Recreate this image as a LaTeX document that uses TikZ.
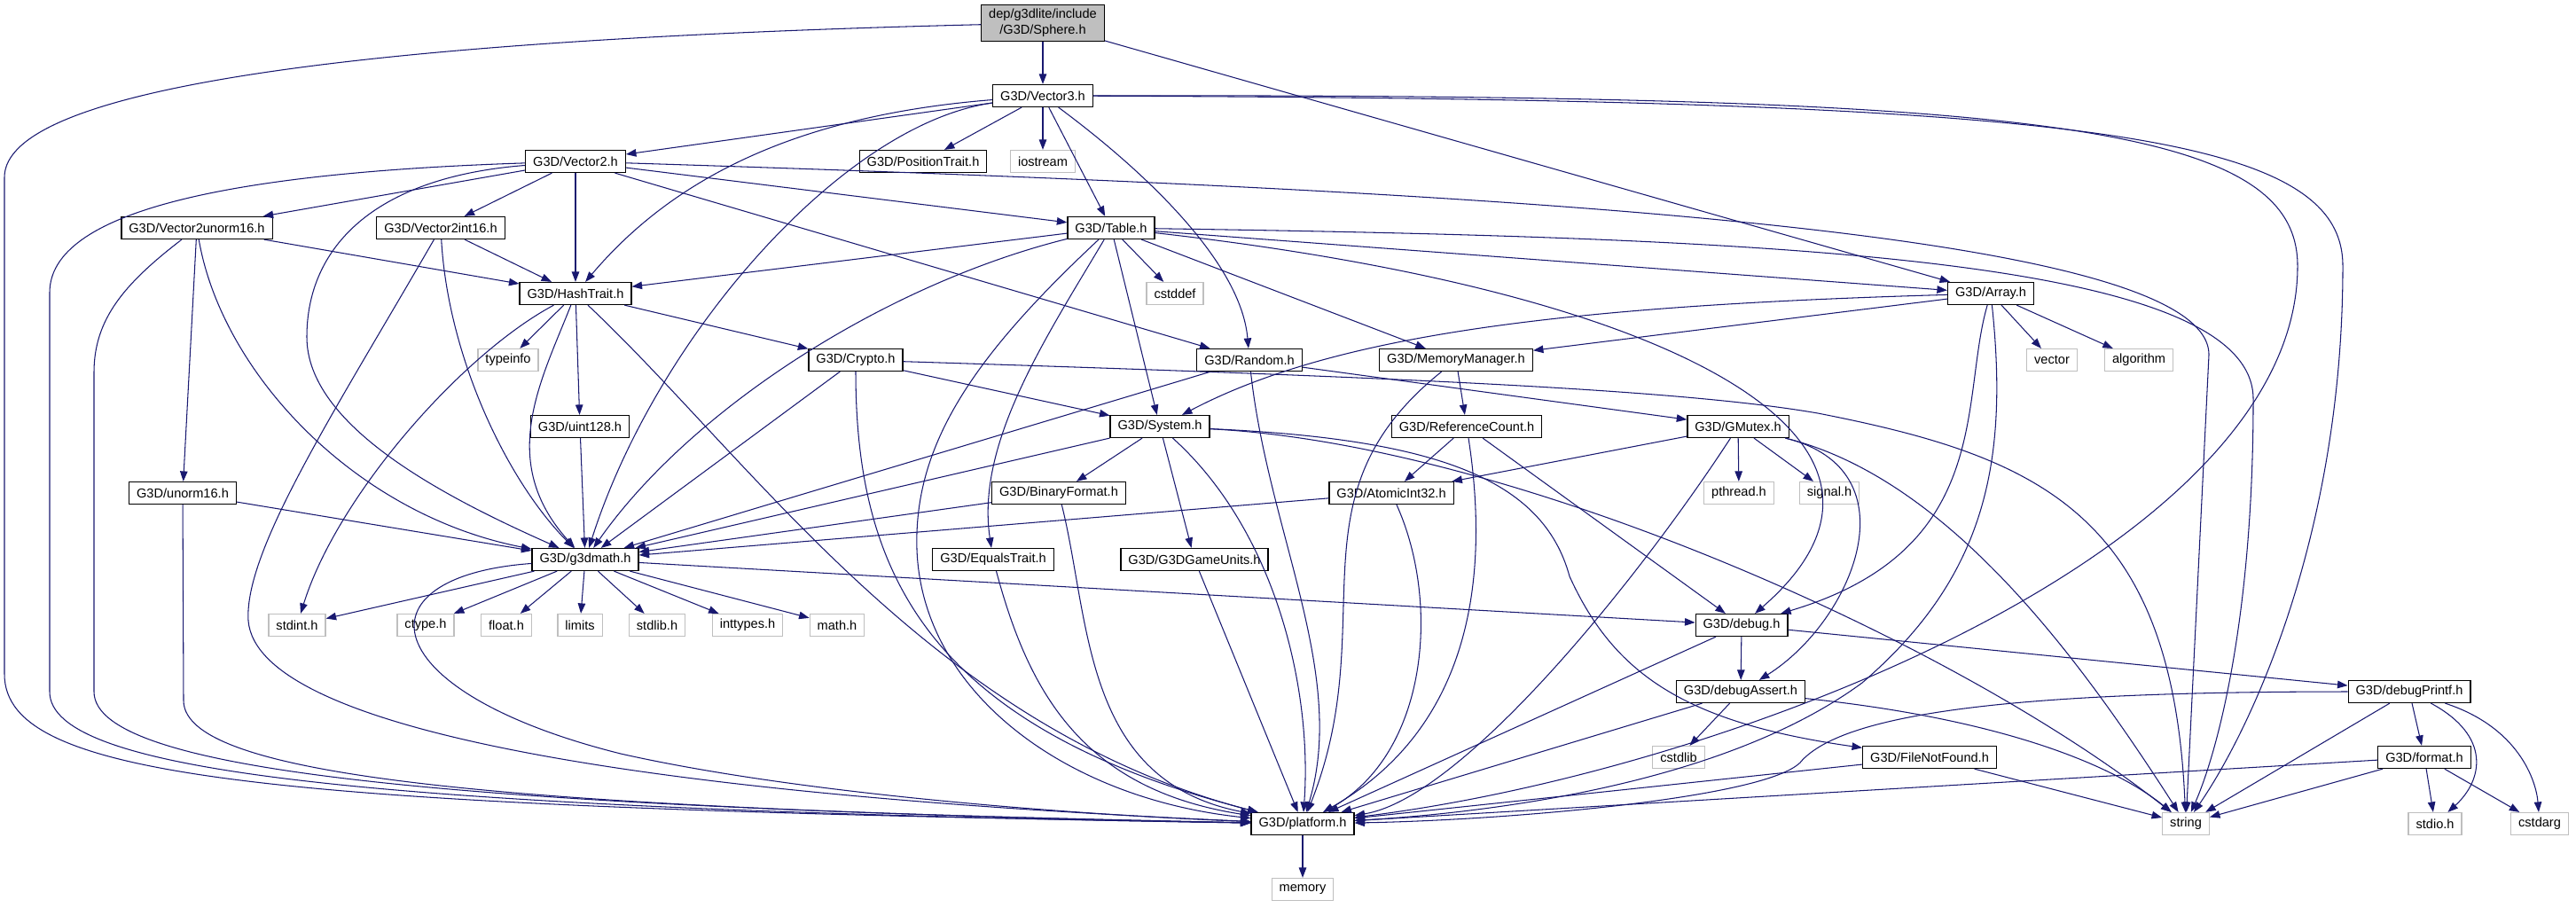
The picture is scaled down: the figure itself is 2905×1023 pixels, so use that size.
\documentclass[tikz,border=0pt]{standalone}
\usepackage{fontspec}
\setmainfont{Liberation Sans}
\usetikzlibrary{arrows.meta}
\definecolor{edgeblue}{RGB}{25,25,112}
\tikzset{
  header/.style={draw=black, line width=0.35pt, fill=white, inner xsep=0.85mm, inner ysep=0.2mm, minimum height=2.5mm, font=\fontsize{4.15}{5}\selectfont},
  sysheader/.style={header, draw=black!25},
  rootheader/.style={header, fill=black!25, align=center, inner ysep=0.5mm},
  incl/.style={draw=edgeblue, line width=0.3pt, -{Triangle[length=1.15mm,width=0.85mm]}}
}

\begin{document}
\begin{tikzpicture}[x=0.1mm, y=-0.1mm]
	\useasboundingbox (0,0) rectangle (2905,1023);
	\node[rootheader] (sphere) at (1176,26) {dep/g3dlite/include\\/G3D/Sphere.h};
	\node[header] (vector3) at (1176,108) {G3D/Vector3.h};
	\node[header] (vector2) at (649,182) {G3D/Vector2.h};
	\node[header] (positiontrait) at (1041,182) {G3D/PositionTrait.h};
	\node[sysheader] (iostream) at (1176,182) {iostream};
	\node[header] (vector2unorm16) at (222,257) {G3D/Vector2unorm16.h};
	\node[header] (vector2int16) at (497,257) {G3D/Vector2int16.h};
	\node[header] (table) at (1253,257) {G3D/Table.h};
	\node[header] (hashtrait) at (649,331) {G3D/HashTrait.h};
	\node[sysheader] (cstddef) at (1325,331) {cstddef};
	\node[header] (array) at (2245,331) {G3D/Array.h};
	\node[sysheader] (typeinfo) at (573,406) {typeinfo};
	\node[header] (crypto) at (965,406) {G3D/Crypto.h};
	\node[header] (random) at (1409,406) {G3D/Random.h};
	\node[header] (memorymanager) at (1642,406) {G3D/MemoryManager.h};
	\node[sysheader] (vector) at (2314,406) {vector};
	\node[sysheader] (algorithm) at (2412,406) {algorithm};
	\node[header] (uint128) at (654,481) {G3D/uint128.h};
	\node[header] (system) at (1308,481) {G3D/System.h};
	\node[header] (referencecount) at (1654,481) {G3D/ReferenceCount.h};
	\node[header] (gmutex) at (1960,481) {G3D/GMutex.h};
	\node[header] (unorm16) at (206,556) {G3D/unorm16.h};
	\node[header] (binaryformat) at (1194,556) {G3D/BinaryFormat.h};
	\node[header] (atomicint32) at (1569,556) {G3D/AtomicInt32.h};
	\node[sysheader] (pthread) at (1961,556) {pthread.h};
	\node[sysheader] (signal) at (2063,556) {signal.h};
	\node[header] (g3dmath) at (660,631) {G3D/g3dmath.h};
	\node[header] (equalstrait) at (1120,631) {G3D/EqualsTrait.h};
	\node[header] (g3dgameunits) at (1347,631) {G3D/G3DGameUnits.h};
	\node[sysheader] (stdint) at (335,705) {stdint.h};
	\node[sysheader] (ctype) at (480,705) {ctype.h};
	\node[sysheader] (float) at (571,705) {float.h};
	\node[sysheader] (limits) at (654,705) {limits};
	\node[sysheader] (stdlib) at (741,705) {stdlib.h};
	\node[sysheader] (inttypes) at (843,705) {inttypes.h};
	\node[sysheader] (math) at (944,705) {math.h};
	\node[header] (debug) at (1964,705) {G3D/debug.h};
	\node[header] (debugassert) at (1963,780) {G3D/debugAssert.h};
	\node[header] (debugprintf) at (2717,780) {G3D/debugPrintf.h};
	\node[sysheader] (cstdlib) at (1893,854) {cstdlib};
	\node[header] (filenotfound) at (2176,854) {G3D/FileNotFound.h};
	\node[header] (format) at (2734,854) {G3D/format.h};
	\node[header] (platform) at (1469,929) {G3D/platform.h};
	\node[sysheader] (string) at (2465,929) {string};
	\node[sysheader] (stdio) at (2746,929) {stdio.h};
	\node[sysheader] (cstdarg) at (2864,929) {cstdarg};
	\node[sysheader] (memory) at (1469,1003) {memory};

	\draw[incl] (sphere) -- (vector3);
	\draw[incl] (sphere) -- (array);
	\draw[incl] (sphere) .. controls (400,45) and (5,100) .. (5,200) -- (5,760) .. controls (5,880) and (300,910) .. (platform);
	\draw[incl] (vector3) -- (vector2);
	\draw[incl] (vector3) -- (positiontrait);
	\draw[incl] (vector3) -- (iostream);
	\draw[incl] (vector3) -- (table);
	\draw[incl] (vector3) .. controls (1300,200) and (1400,300) .. (random);
	\draw[incl] (vector3) .. controls (900,130) and (760,200) .. (hashtrait);
	\draw[incl] (vector3) .. controls (950,140) and (740,380) .. (g3dmath);
	\draw[incl] (vector3) .. controls (2300,106) and (2591,140) .. (2591,300) .. controls (2591,620) and (1950,870) .. (platform);
	\draw[incl] (vector3) .. controls (2350,112) and (2642,150) .. (2642,300) .. controls (2642,600) and (2540,820) .. (string);
	\draw[incl] (vector2) -- (vector2unorm16);
	\draw[incl] (vector2) -- (vector2int16);
	\draw[incl] (vector2) -- (hashtrait);
	\draw[incl] (vector2) -- (table);
	\draw[incl] (vector2) -- (random);
	\draw[incl] (vector2) .. controls (420,200) and (346,280) .. (346,380) .. controls (346,480) and (500,560) .. (g3dmath);
	\draw[incl] (vector2) .. controls (250,195) and (56,240) .. (56,330) -- (56,780) .. controls (56,870) and (400,912) .. (platform);
	\draw[incl] (vector2) .. controls (1700,215) and (2491,260) .. (2491,400) -- (string);
	\draw[incl] (vector2unorm16) -- (hashtrait);
	\draw[incl] (vector2unorm16) -- (unorm16);
	\draw[incl] (vector2unorm16) .. controls (250,420) and (400,580) .. (g3dmath);
	\draw[incl] (vector2unorm16) .. controls (140,320) and (106,360) .. (106,420) -- (106,780) .. controls (106,870) and (500,910) .. (platform);
	\draw[incl] (vector2int16) -- (hashtrait);
	\draw[incl] (vector2int16) .. controls (505,400) and (570,540) .. (g3dmath);
	\draw[incl] (vector2int16) .. controls (380,460) and (275,620) .. (280,700) .. controls (290,820) and (700,895) .. (platform);
	\draw[incl] (table) -- (hashtrait);
	\draw[incl] (table) -- (cstddef);
	\draw[incl] (table) -- (array);
	\draw[incl] (table) -- (memorymanager);
	\draw[incl] (table) -- (system);
	\draw[incl] (table) .. controls (1180,380) and (1100,500) .. (equalstrait);
	\draw[incl] (table) .. controls (1000,320) and (780,460) .. (g3dmath);
	\draw[incl] (table) .. controls (1100,400) and (1030,500) .. (1034,620) .. controls (1040,780) and (1200,900) .. (platform);
	\draw[incl] (table) .. controls (1900,330) and (2200,500) .. (debug);
	\draw[incl] (table) .. controls (2000,268) and (2541,290) .. (2541,450) .. controls (2541,700) and (2500,850) .. (string);
	\draw[incl] (array) -- (vector);
	\draw[incl] (array) -- (algorithm);
	\draw[incl] (array) -- (memorymanager);
	\draw[incl] (array) .. controls (1750,345) and (1500,380) .. (system);
	\draw[incl] (array) .. controls (2210,450) and (2250,620) .. (debug);
	\draw[incl] (array) .. controls (2265,520) and (2240,650) .. (2100,770) .. controls (1950,880) and (1700,915) .. (platform);
	\draw[incl] (hashtrait) -- (typeinfo);
	\draw[incl] (hashtrait) -- (crypto);
	\draw[incl] (hashtrait) -- (uint128);
	\draw[incl] (hashtrait) .. controls (610,430) and (560,520) .. (g3dmath);
	\draw[incl] (hashtrait) .. controls (520,400) and (380,560) .. (stdint);
	\draw[incl] (hashtrait) .. controls (850,520) and (1050,820) .. (platform);
	\draw[incl] (crypto) -- (system);
	\draw[incl] (crypto) -- (g3dmath);
	\draw[incl] (crypto) .. controls (965,650) and (1050,820) .. (platform);
	\draw[incl] (crypto) .. controls (1600,426) and (1900,440) .. (2050,466) .. controls (2300,515) and (2450,580) .. (string);
	\draw[incl] (random) -- (g3dmath);
	\draw[incl] (random) -- (gmutex);
	\draw[incl] (random) .. controls (1430,600) and (1520,760) .. (platform);
	\draw[incl] (memorymanager) -- (referencecount);
	\draw[incl] (memorymanager) .. controls (1450,560) and (1560,700) .. (platform);
	\draw[incl] (system) -- (binaryformat);
	\draw[incl] (system) -- (g3dgameunits);
	\draw[incl] (system) -- (g3dmath);
	\draw[incl] (system) .. controls (1440,600) and (1480,780) .. (platform);
	\draw[incl] (system) .. controls (1620,495) and (1740,540) .. (1770,650) .. controls (1820,760) and (1900,815) .. (filenotfound);
	\draw[incl] (system) .. controls (1700,500) and (2200,720) .. (string);
	\draw[incl] (referencecount) -- (atomicint32);
	\draw[incl] (referencecount) -- (debug);
	\draw[incl] (referencecount) .. controls (1680,650) and (1660,820) .. (platform);
	\draw[incl] (gmutex) -- (atomicint32);
	\draw[incl] (gmutex) -- (pthread);
	\draw[incl] (gmutex) -- (signal);
	\draw[incl] (gmutex) .. controls (2160,530) and (2090,700) .. (debugassert);
	\draw[incl] (gmutex) .. controls (2200,540) and (2350,750) .. (string);
	\draw[incl] (gmutex) .. controls (1850,650) and (1650,900) .. (platform);
	\draw[incl] (atomicint32) -- (g3dmath);
	\draw[incl] (atomicint32) .. controls (1625,680) and (1610,850) .. (platform);
	\draw[incl] (binaryformat) -- (g3dmath);
	\draw[incl] (binaryformat) .. controls (1230,700) and (1220,880) .. (platform);
	\draw[incl] (equalstrait) .. controls (1160,780) and (1220,890) .. (platform);
	\draw[incl] (g3dgameunits) -- (platform);
	\draw[incl] (uint128) -- (g3dmath);
	\draw[incl] (unorm16) -- (g3dmath);
	\draw[incl] (unorm16) -- (207,790) .. controls (207,880) and (600,912) .. (platform);
	\draw[incl] (g3dmath) -- (stdint);
	\draw[incl] (g3dmath) -- (ctype);
	\draw[incl] (g3dmath) -- (float);
	\draw[incl] (g3dmath) -- (limits);
	\draw[incl] (g3dmath) -- (stdlib);
	\draw[incl] (g3dmath) -- (inttypes);
	\draw[incl] (g3dmath) -- (math);
	\draw[incl] (g3dmath) -- (debug);
	\draw[incl] (g3dmath) .. controls (400,650) and (420,780) .. (700,850) .. controls (900,895) and (1200,918) .. (platform);
	\draw[incl] (debug) -- (debugassert);
	\draw[incl] (debug) -- (debugprintf);
	\draw[incl] (debug) -- (platform);
	\draw[incl] (debugassert) -- (cstdlib);
	\draw[incl] (debugassert) -- (platform);
	\draw[incl] (debugassert) .. controls (2250,810) and (2380,860) .. (string);
	\draw[incl] (debugprintf) -- (format);
	\draw[incl] (debugprintf) -- (string);
	\draw[incl] (debugprintf) .. controls (2810,830) and (2800,880) .. (stdio);
	\draw[incl] (debugprintf) .. controls (2840,820) and (2860,880) .. (cstdarg);
	\draw[incl] (debugprintf) .. controls (2300,780) and (2080,800) .. (2030,860) .. controls (1990,900) and (1700,925) .. (platform);
	\draw[incl] (format) -- (stdio);
	\draw[incl] (format) -- (cstdarg);
	\draw[incl] (format) -- (string);
	\draw[incl] (format) -- (platform);
	\draw[incl] (filenotfound) -- (string);
	\draw[incl] (filenotfound) -- (platform);
	\draw[incl] (platform) -- (memory);
\end{tikzpicture}
\end{document}
